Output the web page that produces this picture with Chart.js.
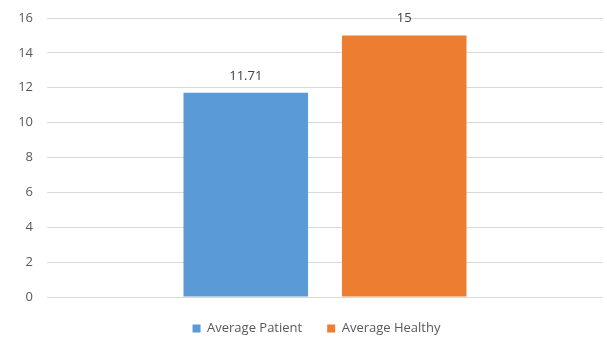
<!DOCTYPE html>
<html>
<head>
<meta charset="utf-8">
<script src="https://cdn.jsdelivr.net/npm/chart.js@4"></script>
<style>
  html, body { margin: 0; padding: 0; background: #fff; }
  #wrap { width: 607px; height: 339px; position: relative; }
</style>
</head>
<body>
<div id="wrap"><canvas id="c"></canvas></div>
<script>
// Values shown in the chart
const categories = [''];
const seriesNames = ['Average Patient', 'Average Healthy'];
const patientValues = [11.71];
const healthyValues = [15];
const seriesColors = ['#5B9BD5', '#ED7D31'];
const yTicks = [0, 2, 4, 6, 8, 10, 12, 14, 16];

const FONT = "'Open Sans', 'Liberation Sans', sans-serif";

// Writes each bar's value above it
const valueLabels = {
  id: 'valueLabels',
  afterDatasetsDraw(chart) {
    const ctx = chart.ctx;
    ctx.save();
    ctx.font = '13px ' + FONT;
    ctx.fillStyle = '#404040';
    ctx.textAlign = 'center';
    ctx.textBaseline = 'middle';
    chart.data.datasets.forEach((ds, i) => {
      chart.getDatasetMeta(i).data.forEach((bar, j) => {
        ctx.fillText(String(ds.data[j]), bar.x, bar.y - 17);
      });
    });
    ctx.restore();
  }
};

// Fixed legend band below the plot, centred under the plot area
const legendSpacing = {
  id: 'legendSpacing',
  beforeInit(chart) {
    const fit = chart.legend.fit;
    chart.legend.fit = function () {
      fit.call(this);
      this.height = 42;
    };
  },
  afterLayout(chart) {
    chart.legend.left += 15;
    chart.legend.right += 15;
  }
};

new Chart(document.getElementById('c'), {
  type: 'bar',
  data: {
    labels: categories,
    datasets: [
      { label: seriesNames[0], data: patientValues, backgroundColor: seriesColors[0] },
      { label: seriesNames[1], data: healthyValues, backgroundColor: seriesColors[1] }
    ]
  },
  options: {
    responsive: true,
    maintainAspectRatio: false,
    animation: false,
    layout: { padding: { top: 18, right: 4, left: 0, bottom: 0 } },
    datasets: { bar: { categoryPercentage: 0.57, barPercentage: 0.786 } },
    plugins: {
      legend: {
        position: 'bottom',
        align: 'center',
        labels: {
          font: { family: FONT, size: 13 },
          color: '#595959',
          boxWidth: 8,
          boxHeight: 8,
          padding: 25
        }
      },
      tooltip: { enabled: false }
    },
    scales: {
      x: {
        display: false
      },
      y: {
        min: 0,
        max: 16,
        afterBuildTicks(axis) { axis.ticks = yTicks.map(v => ({ value: v })); },
        afterFit(axis) {
          axis.width = 47;
          axis.paddingTop = 0;
          axis.paddingBottom = 0;
        },
        border: { display: false },
        grid: { color: '#D9D9D9', lineWidth: 1, drawTicks: false },
        ticks: {
          color: '#595959',
          font: { family: FONT, size: 13 },
          padding: 14
        }
      }
    }
  },
  plugins: [valueLabels, legendSpacing]
});
</script>
</body>
</html>
